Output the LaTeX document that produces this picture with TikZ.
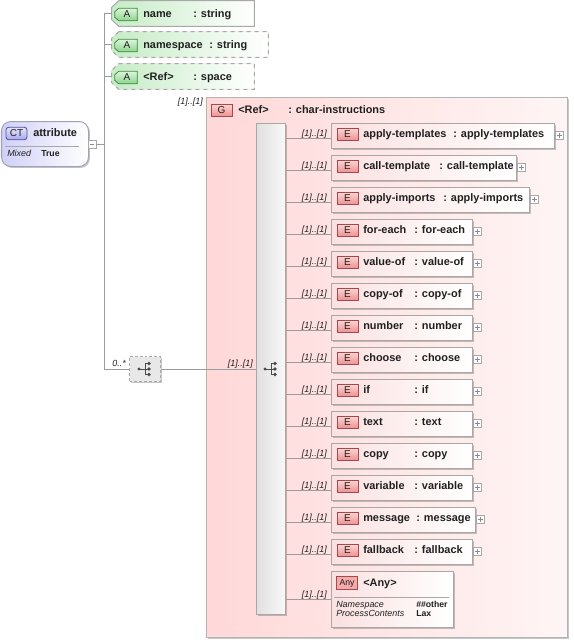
\documentclass[tikz,border=0pt]{standalone}
\usepackage{fontspec}
\setmainfont{Liberation Sans}
\usetikzlibrary{shadows,calc}
\definecolor{conn}{HTML}{9C9C9C}
\definecolor{bord}{HTML}{A8A8A8}
\definecolor{elpink}{HTML}{FBE0E0}
\definecolor{grpL}{HTML}{FFD8D8}
\definecolor{grpR}{HTML}{FFF5F5}
\definecolor{badgeRT}{HTML}{FCD4D4}
\definecolor{badgeRB}{HTML}{EE8E8E}
\definecolor{badgeRD}{HTML}{A84848}
\definecolor{attrG}{HTML}{C6ECC6}
\definecolor{badgeGT}{HTML}{DCF5DC}
\definecolor{badgeGB}{HTML}{8ED48E}
\definecolor{badgeGD}{HTML}{3E8A3E}
\definecolor{ctL}{HTML}{D0D0F8}
\definecolor{ctB}{HTML}{A0A0B8}
\definecolor{badgeBT}{HTML}{E4E4FA}
\definecolor{badgeBB}{HTML}{A8A8EC}
\definecolor{badgeBD}{HTML}{50509C}
\definecolor{txt}{HTML}{202020}
\definecolor{seqL}{HTML}{E0E0E0}
\definecolor{seqR}{HTML}{F8F8F8}
\definecolor{grpB}{HTML}{B4B4B4}
\begin{document}
\begin{tikzpicture}[x=0.75pt,y=-0.75pt,
  conn/.style={draw=conn,line width=0.75pt},
  shad/.style={drop shadow={shadow xshift=1.1pt,shadow yshift=-1.1pt,fill=black,opacity=0.22}},
  bname/.style={font=\fontsize{8.2}{10}\selectfont\bfseries,text=txt,inner sep=0,anchor=base west},
  occ/.style={font=\fontsize{6.7}{8}\selectfont\itshape,text=txt,inner sep=0,anchor=base east},
  prop/.style={font=\fontsize{6.7}{8}\selectfont\itshape,text=txt,inner sep=0,anchor=base west},
  pval/.style={font=\fontsize{6.5}{8}\selectfont\bfseries,text=txt,inner sep=0,anchor=base west},
  ebox/.style={rectangle,draw=bord,line width=0.75pt,left color=elpink,right color=white,inner sep=0,anchor=north west,minimum height=25*0.75pt,shad},
  rbadge/.style={rectangle,draw=badgeRD,line width=0.6pt,top color=badgeRT,bottom color=badgeRB,inner sep=0,minimum width=21*0.75pt,minimum height=12.5*0.75pt,font=\fontsize{7.5}{8}\selectfont,text=txt},
  aframe/.style={rectangle,inner sep=0,minimum height=25*0.75pt},
  expd/.style={rectangle,draw=bord,fill=white,line width=0.5pt,minimum size=8*0.75pt,inner sep=0,
    path picture={\draw[black!45,line width=0.5pt] ([xshift=1.2pt]path picture bounding box.west) -- ([xshift=-1.2pt]path picture bounding box.east) ([yshift=-1.2pt]path picture bounding box.north) -- ([yshift=1.2pt]path picture bounding box.south);}},
  mexpd/.style={rectangle,draw=bord,fill=white,line width=0.5pt,minimum size=8*0.75pt,inner sep=0,
    path picture={\draw[black!45,line width=0.5pt] ([xshift=1.2pt]path picture bounding box.west) -- ([xshift=-1.2pt]path picture bounding box.east);}},
]
\useasboundingbox (0,0) rectangle (574,643);

% ---- group box
\node[rectangle,draw=grpB,line width=0.75pt,left color=grpL,right color=grpR,minimum width=361*0.75pt,minimum height=540*0.75pt,anchor=north west,inner sep=0,shad] (grp) at (206,97) {};
\node[rbadge] (gb) at (221.5,110.5) {G};
\node[bname] at (238,113) {<Ref>};
\node[bname] at (288,113) {: char-instructions};
\node[occ] at (203,104.5) {[1]..[1]};

% ---- sequence bar
\node[rectangle,draw=bord,line width=0.75pt,left color=seqL,right color=seqR,minimum width=29*0.75pt,minimum height=491*0.75pt,anchor=north west,inner sep=0,shad] (seq) at (256,123) {};

% ---- complex type
\node[rectangle,rounded corners=7pt,draw=ctB,line width=0.75pt,left color=ctL,right color=white,minimum width=87*0.75pt,minimum height=45*0.75pt,anchor=north west,inner sep=0,shad] (ct) at (1,121) {};
\node[rectangle,rounded corners=2pt,draw=badgeBD,line width=0.6pt,top color=badgeBT,bottom color=badgeBB,inner sep=0,minimum width=21*0.75pt,minimum height=12.5*0.75pt,font=\fontsize{7.5}{8}\selectfont,text=txt] (ctb) at (16.5,133.5) {CT};
\node[bname] at (33,136.5) {attribute};
\draw[draw=bord,line width=0.6pt] (ct.west |- 0,146) ++(4,0) -- (79,146);
\node[prop] at (7,156.5) {Mixed};
\node[pval] at (41,156) {True};
\node[mexpd] (mx) at (92,144) {};

% ---- attributes
\foreach \n/\t/\r/\ds/\nm/\ty/\cx in {a1/1/254/solid/name/string/193, a2/32/268/dashed/namespace/string/209, a3/64/254/dashed/{<Ref>}/space/193}{
  \pgfmathsetmacro\cxx{(112+\r)/2}
  \pgfmathsetmacro\ww{\r-112}
  \node[aframe,minimum width=\ww*0.75pt] (\n) at (\cxx,\t+12.5) {};
  \fill[black,opacity=0.2,shift={(1.5,1.5)}] ($(\n.north west)+(7,0)$) -- (\n.north east) -- (\n.south east) -- ($(\n.south west)+(7,0)$) -- ($(\n.south west)+(0,-6.5)$) -- ($(\n.north west)+(0,6.5)$) -- cycle;
  \shade[left color=attrG,right color=white] ($(\n.north west)+(7,0)$) -- (\n.north east) -- (\n.south east) -- ($(\n.south west)+(7,0)$) -- ($(\n.south west)+(0,-6.5)$) -- ($(\n.north west)+(0,6.5)$) -- cycle;
  \draw[bord,line width=0.75pt,\ds] ($(\n.north west)+(7,0)$) -- (\n.north east) -- (\n.south east) -- ($(\n.south west)+(7,0)$) -- ($(\n.south west)+(0,-6.5)$) -- ($(\n.north west)+(0,6.5)$) -- cycle;
  \node[rectangle,inner sep=0,minimum width=22*0.75pt,minimum height=12*0.75pt] (b\n) at (126,\t+13.5) {};
  \draw[badgeGD,line width=0.6pt,top color=badgeGT,bottom color=badgeGB] ($(b\n.north west)+(4,0)$) -- (b\n.north east) -- (b\n.south east) -- ($(b\n.south west)+(4,0)$) -- ($(b\n.south west)+(0,-3.5)$) -- ($(b\n.north west)+(0,3.5)$) -- cycle;
  \node[font=\fontsize{7.5}{8}\selectfont,text=txt,inner sep=0] at ($(b\n.center)+(1,0)$) {A};
  \node[bname] at (143,\t+16) {\nm};
  \node[bname] at (\cx,\t+16) {: \ty};
}

% ---- outer sequence
\node[rectangle,draw=bord,dash pattern=on 2.2pt off 1.5pt,line width=0.75pt,fill=black!9,minimum width=31*0.75pt,minimum height=25*0.75pt,anchor=north west,inner sep=0,shad] (oseq) at (129,356) {};

% ---- trunk connectors
\coordinate (tk) at (104,144);
\draw[conn] (mx.east) -- (tk);
\draw[conn] (a1.west) -- (tk |- a1.west) -- (tk |- oseq.west) -- (oseq.west);
\draw[conn] (a2.west) -- (tk |- a2.west);
\draw[conn] (a3.west) -- (tk |- a3.west);
\node[occ] at (126,366) {0..*};
\draw[conn] (oseq.east) -- (seq.west |- oseq.east);
\node[occ] at (253,366) {[1]..[1]};

% ---- sequence icons
\foreach \p in {oseq,seq}{
  \begin{scope}[shift={(\p.center |- oseq.center)}]
    \fill[black!70] (-6,0) circle (1.7);
    \draw[black!70,line width=0.6pt] (-6,0) -- (0,0) (0,-5.5) -- (0,5.5) (0,-5.5) -- (4,-5.5) (0,5.5) -- (4,5.5) (0,0) -- (4,0);
    \fill[black!70] (4,-5.5) circle (1.8) (4,0) circle (1.8) (4,5.5) circle (1.8);
  \end{scope}
}

% ---- elements
\foreach \i/\nm/\r/\cx in {0/apply-templates/554/453, 1/call-template/516/439, 2/apply-imports/529/443, 3/for-each/472/414, 4/value-of/472/414, 5/copy-of/472/414, 6/number/472/414, 7/choose/472/414, 8/if/472/414, 9/text/472/414, 10/copy/472/414, 11/variable/472/414, 12/message/475/416, 13/fallback/472/414}{
  \pgfmathsetmacro\t{123+32*\i}
  \pgfmathsetmacro\ww{\r-331}
  \node[ebox,minimum width=\ww*0.75pt] (e\i) at (331,\t) {};
  \node[rbadge] (eb\i) at (347.5,\t+11.5) {E};
  \node[bname] at (363,\t+14.5) {\nm};
  \node[bname] at (\cx,\t+14.5) {: \nm};
  \node[expd] (x\i) at (\r+5.5,\t+12.5) {};
  \coordinate (c\i) at ($(e\i.west)+(0,2.5)$);
  \draw[conn] (seq.east |- c\i) -- (c\i);
  \node[occ] at ($(c\i)+(-4,-2)$) {[1]..[1]};
}

% ---- any
\node[ebox,minimum width=122*0.75pt,minimum height=56*0.75pt] (anyb) at (331,571) {};
\node[rectangle,draw=badgeRD,line width=0.6pt,fill=badgeRB!75,inner sep=0,minimum width=21*0.75pt,minimum height=12.5*0.75pt,font=\fontsize{6.5}{8}\selectfont,text=txt] (anyg) at (347,583) {Any};
\node[bname] at (363,586) {<Any>};
\draw[draw=bord,line width=0.6pt] (anyb.west |- 0,597) ++(3,0) -- (449,597);
\node[prop] at (336,607.5) {Namespace};
\node[prop] at (336,616.5) {ProcessContents};
\node[pval] at (416,607) {\#\#other};
\node[pval] at (416,616.5) {Lax};
\draw[conn] (seq.east |- anyb.west) -- (anyb.west);
\node[occ] at ($(anyb.west)+(-4,-2)$) {[1]..[1]};
\end{tikzpicture}
\end{document}
